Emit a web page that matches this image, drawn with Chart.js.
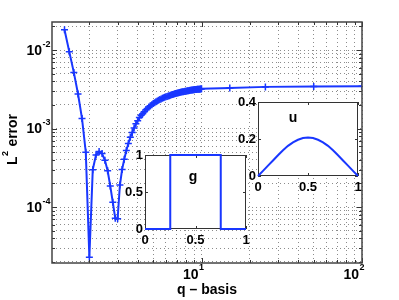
<!DOCTYPE html>
<html>
<head>
<meta charset="utf-8">
<script src="https://cdn.jsdelivr.net/npm/chart.js@4.4.0/dist/chart.umd.min.js"></script>
<style>
body { margin: 0; background: #fff; }
#wrap { position: relative; width: 399px; height: 300px; }
#wrap canvas { position: absolute; left: 0; top: 0; }
</style>
</head>
<body>
<div id="wrap">
  <canvas id="mainChart" width="399" height="300"></canvas>
  <canvas id="gChart" width="399" height="300"></canvas>
  <canvas id="uChart" width="399" height="300"></canvas>
</div>
<script>
// main curve: L2 error against q
const qBasis = [
  1.4, 1.5, 1.6, 1.7, 1.8, 1.9, 2.0, 2.1, 2.2, 2.3, 2.4, 2.5, 2.6, 2.7, 2.8, 2.9,
  3.0, 3.1, 3.2, 3.3, 3.4, 3.5, 3.6, 3.7, 3.8, 3.9, 4.0, 4.1, 4.2, 4.3, 4.4, 4.5,
  4.6, 4.7, 4.8, 4.9, 5.0, 5.1, 5.2, 5.3, 5.4, 5.5, 5.6, 5.7, 5.8, 5.9, 6.0, 6.1,
  6.2, 6.3, 6.4, 6.5, 6.6, 6.7, 6.8, 6.9, 7.0, 7.1, 7.2, 7.3, 7.4, 7.5, 7.6, 7.7,
  7.8, 7.9, 8.0, 8.1, 8.2, 8.3, 8.4, 8.5, 8.6, 8.7, 8.8, 8.9, 9.0, 9.1, 9.2, 9.3,
  9.4, 9.5, 9.6, 9.7, 9.8, 9.9, 10, 15, 25, 50, 100
];
const l2Error = [
  1.82e-2, 9.5e-3, 5.2e-3, 2.76e-3, 1.34e-3, 5.0e-4, 2.3e-5, 3.0e-4, 4.6e-4, 5.1e-4, 4.8e-4, 3.95e-4, 2.9e-4, 1.85e-4, 1.15e-4, 7.2e-5,
  7.1e-5, 1.91e-4, 3.02e-4, 4.07e-4, 5.25e-4, 6.46e-4, 7.76e-4, 8.91e-4, 1.02e-3, 1.15e-3, 1.26e-3, 1.38e-3, 1.48e-3, 1.55e-3, 1.64e-3, 1.74e-3,
  1.80e-3, 1.88e-3, 1.95e-3, 2.02e-3, 2.09e-3, 2.14e-3, 2.19e-3, 2.24e-3, 2.29e-3, 2.34e-3, 2.39e-3, 2.43e-3, 2.47e-3, 2.51e-3, 2.54e-3, 2.57e-3,
  2.60e-3, 2.63e-3, 2.66e-3, 2.69e-3, 2.72e-3, 2.74e-3, 2.77e-3, 2.79e-3, 2.82e-3, 2.84e-3, 2.86e-3, 2.88e-3, 2.90e-3, 2.92e-3, 2.94e-3, 2.95e-3,
  2.97e-3, 2.99e-3, 3.00e-3, 3.01e-3, 3.03e-3, 3.04e-3, 3.05e-3, 3.07e-3, 3.08e-3, 3.10e-3, 3.11e-3, 3.12e-3, 3.13e-3, 3.14e-3, 3.15e-3, 3.15e-3,
  3.16e-3, 3.17e-3, 3.18e-3, 3.18e-3, 3.19e-3, 3.20e-3, 3.21e-3, 3.29e-3, 3.40e-3, 3.45e-3, 3.46e-3
];

// grid / tick positions
const xGrid = [2, 3, 4, 5, 6, 7, 8, 9, 10, 20, 30, 40, 50, 60, 70, 80, 90, 100];
const yGrid = [2e-5, 3e-5, 4e-5, 5e-5, 6e-5, 7e-5, 8e-5, 9e-5,
  1e-4, 2e-4, 3e-4, 4e-4, 5e-4, 6e-4, 7e-4, 8e-4, 9e-4,
  1e-3, 2e-3, 3e-3, 4e-3, 5e-3, 6e-3, 7e-3, 8e-3, 9e-3, 1e-2, 2e-2];
const xMajor = [10, 100];
const xMajorExp = ['1', '2'];
const yMajor = [1e-4, 1e-3, 1e-2];
const yMajorExp = ['-4', '-3', '-2'];

// inset g (indicator of [0.25, 0.75])
const gX = [0, 0.25, 0.25, 0.75, 0.75, 1];
const gY = [0, 0, 1, 1, 0, 0];
const gTicksX = [0, 0.5, 1];
const gTicksY = [0, 0.5, 1];
const gTickLabelsX = ['0', '0.5', '1'];
const gTickLabelsY = ['0', '0.5', '1'];

// inset u
const uX = [0, 0.05, 0.1, 0.15, 0.2, 0.25, 0.3, 0.35, 0.4, 0.45, 0.5,
  0.55, 0.6, 0.65, 0.7, 0.75, 0.8, 0.85, 0.9, 0.95, 1];
const uY = [0, 0.028, 0.056, 0.084, 0.112, 0.139, 0.163, 0.182, 0.196, 0.205, 0.208,
  0.205, 0.196, 0.182, 0.163, 0.139, 0.112, 0.084, 0.056, 0.028, 0];
const uTicksX = [0, 0.5, 1];
const uTicksY = [0, 0.2, 0.4];
const uTickLabelsX = ['0', '0.5', '1'];
const uTickLabelsY = ['0', '0.2', '0.4'];

const BLUE = 'rgb(25,55,255)';
const FONT = '"Liberation Sans", Arial, Helvetica, sans-serif';

function pts(xs, ys) {
  return xs.map((x, i) => ({ x: x, y: ys[i] }));
}

// draws "10" with a superscript exponent
function drawPow(ctx, exp, x, y, align) {
  ctx.font = 'bold 14px ' + FONT;
  const wb = ctx.measureText('10').width;
  ctx.font = 'bold 9px ' + FONT;
  const we = ctx.measureText(exp).width;
  let left = align === 'right' ? x - wb - we : x - wb;
  ctx.textAlign = 'left';
  ctx.textBaseline = 'middle';
  ctx.font = 'bold 14px ' + FONT;
  ctx.fillText('10', left, y);
  ctx.font = 'bold 9px ' + FONT;
  ctx.fillText(exp, left + wb + 0.5, y - 7);
}

const mainDecor = {
  id: 'mainDecor',
  afterDraw(chart) {
    const ctx = chart.ctx;
    const a = chart.chartArea;
    const xs = chart.scales.x, ys = chart.scales.y;
    ctx.save();
    // inner tick marks
    ctx.strokeStyle = '#333';
    ctx.lineWidth = 1;
    ctx.beginPath();
    xGrid.forEach(v => {
      const p = Math.round(xs.getPixelForValue(v)) + 0.5;
      const len = xMajor.includes(v) ? 5 : 3;
      ctx.moveTo(p, a.bottom); ctx.lineTo(p, a.bottom - len);
      ctx.moveTo(p, a.top); ctx.lineTo(p, a.top + len);
    });
    yGrid.forEach(v => {
      const p = Math.round(ys.getPixelForValue(v)) + 0.5;
      const len = yMajor.includes(v) ? 5 : 3;
      ctx.moveTo(a.left, p); ctx.lineTo(a.left + len, p);
      ctx.moveTo(a.right, p); ctx.lineTo(a.right - len, p);
    });
    ctx.stroke();
    // box
    ctx.strokeStyle = '#444';
    ctx.lineWidth = 1.5;
    ctx.strokeRect(a.left, a.top, a.right - a.left, a.bottom - a.top);
    // tick labels
    ctx.fillStyle = '#000';
    yMajor.forEach((v, i) => {
      drawPow(ctx, yMajorExp[i], a.left - 2, ys.getPixelForValue(v) + 1, 'right');
    });
    xMajor.forEach((v, i) => {
      drawPow(ctx, xMajorExp[i], xs.getPixelForValue(v) - 3, 275, 'base');
    });
    // axis titles
    ctx.font = 'bold 14px ' + FONT;
    ctx.textAlign = 'center';
    ctx.textBaseline = 'middle';
    ctx.fillText('q \u2013 basis', 207, 290);
    ctx.translate(13, 140);
    ctx.rotate(-Math.PI / 2);
    ctx.font = 'bold 14px ' + FONT;
    const wL = ctx.measureText('L').width;
    const wE = ctx.measureText(' error').width;
    ctx.font = 'bold 9px ' + FONT;
    const w2 = ctx.measureText('2').width;
    let x0 = -(wL + w2 + wE) / 2;
    ctx.textAlign = 'left';
    ctx.font = 'bold 14px ' + FONT;
    ctx.fillText('L', x0, 0);
    ctx.font = 'bold 9px ' + FONT;
    ctx.fillText('2', x0 + wL + 0.5, -7);
    ctx.font = 'bold 14px ' + FONT;
    ctx.fillText(' error', x0 + wL + w2 + 1, 0);
    ctx.restore();
  }
};

new Chart(document.getElementById('mainChart'), {
  type: 'scatter',
  data: {
    datasets: [{
      data: pts(qBasis, l2Error),
      showLine: true,
      borderColor: BLUE,
      backgroundColor: BLUE,
      borderWidth: 2,
      tension: 0,
      pointStyle: 'cross',
      pointRadius: 3.5,
      pointBorderWidth: 1.5,
      pointBorderColor: BLUE
    }]
  },
  options: {
    responsive: false,
    animation: false,
    layout: { padding: { left: 52, right: 37, top: 22, bottom: 37 } },
    plugins: { legend: { display: false }, tooltip: { enabled: false } },
    scales: {
      x: {
        type: 'logarithmic', min: 1.17, max: 100, bounds: 'data',
        afterBuildTicks: s => { s.ticks = xGrid.map(v => ({ value: v })); },
        ticks: { display: false },
        border: { display: false, dash: [1, 3] },
        grid: { color: 'rgba(0,0,0,0.45)', lineWidth: 1, drawTicks: false }
      },
      y: {
        type: 'logarithmic', min: 1.94e-5, max: 2.28e-2, bounds: 'data',
        afterBuildTicks: s => { s.ticks = yGrid.map(v => ({ value: v })); },
        ticks: { display: false },
        border: { display: false, dash: [1, 3] },
        grid: { color: 'rgba(0,0,0,0.45)', lineWidth: 1, drawTicks: false }
      }
    }
  },
  plugins: [mainDecor]
});

function insetDecor(title, tx, ty, ticksX, ticksY, labelsX, labelsY) {
  return {
    id: 'inset',
    beforeDatasetsDraw(chart) {
      const ctx = chart.ctx;
      const a = chart.chartArea;
      const xs = chart.scales.x, ys = chart.scales.y;
      ctx.save();
      ctx.fillStyle = '#fff';
      ctx.fillRect(a.left, a.top, a.right - a.left, a.bottom - a.top);
      ctx.strokeStyle = '#333';
      ctx.lineWidth = 1;
      ctx.beginPath();
      ticksX.forEach(v => {
        const p = Math.round(xs.getPixelForValue(v)) + 0.5;
        ctx.moveTo(p, a.bottom); ctx.lineTo(p, a.bottom - 3);
        ctx.moveTo(p, a.top); ctx.lineTo(p, a.top + 3);
      });
      ticksY.forEach(v => {
        const p = Math.round(ys.getPixelForValue(v)) + 0.5;
        ctx.moveTo(a.left, p); ctx.lineTo(a.left + 3, p);
        ctx.moveTo(a.right, p); ctx.lineTo(a.right - 3, p);
      });
      ctx.stroke();
      ctx.strokeRect(a.left + 0.5, a.top + 0.5, a.right - a.left - 1, a.bottom - a.top - 1);
      ctx.fillStyle = '#000';
      ctx.font = 'bold 13px ' + FONT;
      ctx.textBaseline = 'middle';
      ctx.textAlign = 'right';
      ticksY.forEach((v, i) => ctx.fillText(labelsY[i], a.left - 2, ys.getPixelForValue(v)));
      ctx.textAlign = 'center';
      ticksX.forEach((v, i) => ctx.fillText(labelsX[i], xs.getPixelForValue(v), a.bottom + 11));
      ctx.font = 'bold 14px ' + FONT;
      ctx.fillText(title, tx, ty);
      ctx.restore();
    }
  };
}

function insetChart(id, xs, ys, pad, yMax, deco) {
  new Chart(document.getElementById(id), {
    type: 'scatter',
    data: {
      datasets: [{
        data: pts(xs, ys),
        showLine: true,
        borderColor: BLUE,
        borderWidth: 2,
        tension: 0,
        pointRadius: 0,
        clip: 3
      }]
    },
    options: {
      responsive: false,
      animation: false,
      layout: { padding: pad },
      plugins: { legend: { display: false }, tooltip: { enabled: false } },
      scales: {
        x: { type: 'linear', min: 0, max: 1, display: false },
        y: { type: 'linear', min: 0, max: yMax, display: false }
      }
    },
    plugins: [deco]
  });
}

insetChart('gChart', gX, gY, { left: 145, right: 153, top: 155, bottom: 71 }, 1,
  insetDecor('g', 193, 177, gTicksX, gTicksY, gTickLabelsX, gTickLabelsY));
insetChart('uChart', uX, uY, { left: 258, right: 41, top: 102, bottom: 124 }, 0.4,
  insetDecor('u', 293, 118, uTicksX, uTicksY, uTickLabelsX, uTickLabelsY));
</script>
</body>
</html>
